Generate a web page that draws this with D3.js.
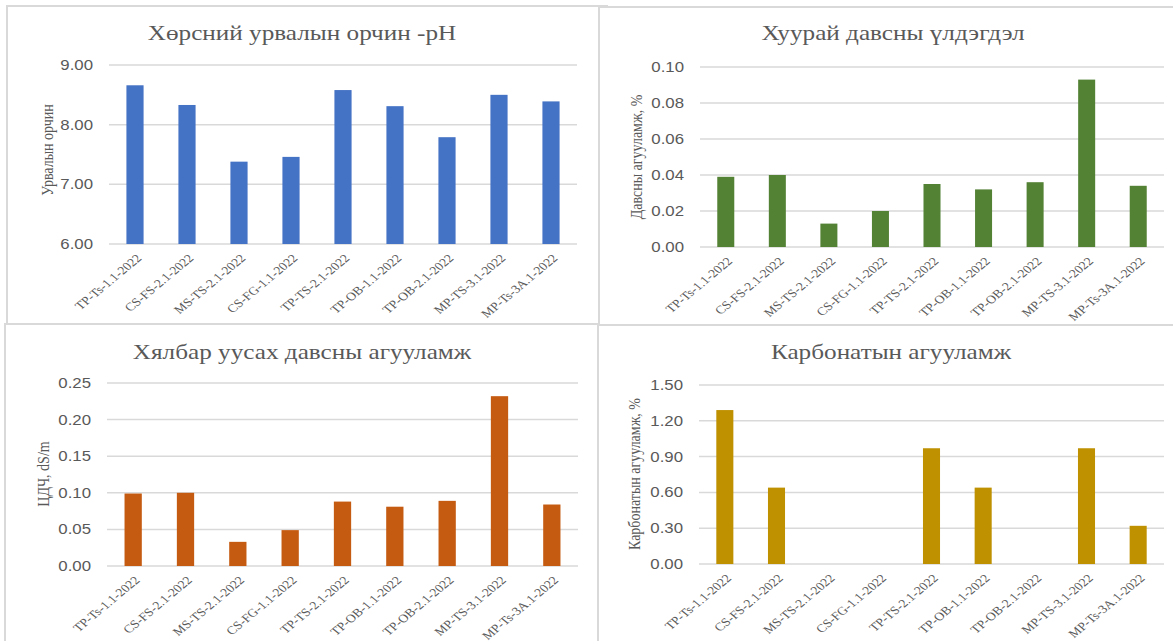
<!DOCTYPE html>
<html>
<head>
<meta charset="utf-8">
<script src="https://cdn.jsdelivr.net/npm/d3@7"></script>
<style>
  html, body { margin: 0; padding: 0; background: #fff; }
  svg { display: block; }
</style>
</head>
<body>
<svg id="chart" width="1173" height="641"></svg>
<script>
// Sample codes shared by all four charts
const categories = [
  "TP-Ts-1.1-2022", "CS-FS-2.1-2022", "MS-TS-2.1-2022", "CS-FG-1.1-2022",
  "TP-TS-2.1-2022", "TP-OB-1.1-2022", "TP-OB-2.1-2022", "MP-TS-3.1-2022",
  "MP-Ts-3A.1-2022"
];

// Soil reaction, pH
const phValues = [8.66, 8.33, 7.38, 7.46, 8.58, 8.31, 7.79, 8.50, 8.39];
const phTicks = [6, 7, 8, 9];

// Dry salt residue, %
const dryResidueValues = [0.039, 0.040, 0.013, 0.020, 0.035, 0.032, 0.036, 0.093, 0.034];
const dryResidueTicks = [0, 0.02, 0.04, 0.06, 0.08, 0.10];

// Electrical conductivity, dS/m
const ecValues = [0.099, 0.100, 0.033, 0.049, 0.088, 0.081, 0.089, 0.232, 0.084];
const ecTicks = [0, 0.05, 0.10, 0.15, 0.20, 0.25];

// Carbonate content, %
const carbonateValues = [1.29, 0.64, 0, 0, 0.97, 0.64, 0, 0.97, 0.32];
const carbonateTicks = [0, 0.30, 0.60, 0.90, 1.20, 1.50];

const svg = d3.select("#chart");
const TEXT = "#595959";
const GRID = "#d9d9d9";
const SX = 1.2; // horizontal text stretch

const panels = [
  { frame: [7, 6, 600, 330], plot: [109, 65, 577, 244], titleX: 302, titleY: 33,
    yTitleX: 47, yTitleY: 150,
    title: "Хөрсний урвалын орчин -pH", yTitle: "Урвалын орчин",
    values: phValues, ticks: phTicks, color: "#4472C4" },
  { frame: [599, 7, 590, 330], plot: [700, 67, 1164, 247], titleX: 893, titleY: 33,
    yTitleX: 636, yTitleY: 157,
    title: "Хуурай давсны үлдэгдэл", yTitle: "Давсны агууламж, %",
    values: dryResidueValues, ticks: dryResidueTicks, color: "#548235" },
  { frame: [5, 324, 593, 330], plot: [107, 383, 578, 566], titleX: 302, titleY: 352,
    yTitleX: 43, yTitleY: 474,
    title: "Хялбар уусах давсны агууламж", yTitle: "ЦДЧ, dS/m",
    values: ecValues, ticks: ecTicks, color: "#C55A11" },
  { frame: [598, 325, 590, 330], plot: [699, 385, 1164, 564], titleX: 891, titleY: 352,
    yTitleX: 634, yTitleY: 474,
    title: "Карбонатын агууламж", yTitle: "Карбонатын агууламж, %",
    values: carbonateValues, ticks: carbonateTicks, color: "#BF9000" }
];

panels.forEach(p => {
  const g = svg.append("g");
  const [fx, fy, fw, fh] = p.frame;
  g.append("rect")
    .attr("x", fx).attr("y", fy).attr("width", fw).attr("height", fh)
    .attr("fill", "#fff").attr("stroke", GRID).attr("stroke-width", 2);

  const [x0, y0, x1, y1] = p.plot;
  const x = d3.scaleBand().domain(categories).range([x0, x1])
    .paddingInner(0.67).paddingOuter(0.335);
  const y = d3.scaleLinear().domain(d3.extent(p.ticks)).range([y1, y0]);

  // Gridlines
  g.append("g").selectAll("line").data(p.ticks).join("line")
    .attr("x1", x0).attr("x2", x1)
    .attr("y1", d => y(d)).attr("y2", d => y(d))
    .attr("stroke", GRID).attr("stroke-width", 1.5);

  // Y tick labels
  g.append("g").selectAll("text").data(p.ticks).join("text")
    .attr("transform", d => `translate(${x0 - 16},${y(d)}) scale(${SX},1)`)
    .attr("text-anchor", "end").attr("dy", "0.36em")
    .attr("font-family", "'Liberation Sans', Arial, sans-serif")
    .attr("font-size", 14).attr("fill", TEXT)
    .text(d => d3.format(".2f")(d));

  // Bars
  g.append("g").selectAll("rect").data(p.values).join("rect")
    .attr("x", (d, i) => x(categories[i]))
    .attr("width", x.bandwidth())
    .attr("y", d => y(d))
    .attr("height", d => y(p.ticks[0]) - y(d))
    .attr("fill", p.color);

  // Category labels
  g.append("g").selectAll("text").data(categories).join("text")
    .attr("transform", d => `translate(${x(d) + x.bandwidth() / 2 + 4},${y1 + 12}) scale(${SX},1) rotate(-45)`)
    .attr("text-anchor", "end").attr("dy", "0.35em")
    .attr("font-family", "'Liberation Serif', 'Times New Roman', serif")
    .attr("font-size", 11.5).attr("fill", TEXT)
    .text(d => d);

  // Chart title
  g.append("text")
    .attr("transform", `translate(${p.titleX},${p.titleY}) scale(${SX},1)`)
    .attr("text-anchor", "middle").attr("dy", "0.35em")
    .attr("font-family", "'Liberation Serif', 'Times New Roman', serif")
    .attr("font-size", 21).attr("fill", TEXT)
    .text(p.title);

  // Value axis title
  g.append("text")
    .attr("transform", `translate(${p.yTitleX},${p.yTitleY}) scale(${SX},1) rotate(-90)`)
    .attr("text-anchor", "middle").attr("dy", "0.35em")
    .attr("font-family", "'Liberation Serif', 'Times New Roman', serif")
    .attr("font-size", 14).attr("fill", TEXT)
    .text(p.yTitle);
});
</script>
</body>
</html>
